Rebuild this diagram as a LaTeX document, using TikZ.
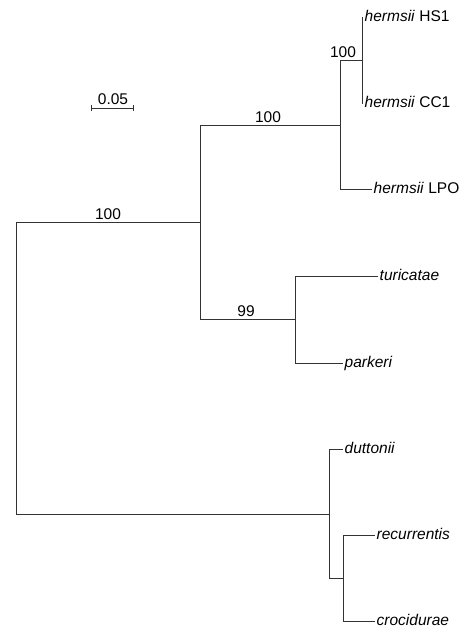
\documentclass[tikz,border=0pt]{standalone}
\usepackage{fontspec}
\setmainfont{Liberation Sans}
\begin{document}
\begin{tikzpicture}[x=1pt,y=-1pt,
  br/.style={draw=black!80,line width=1pt},
  leaf/.style={font=\fontsize{15.5}{18}\selectfont, anchor=west, inner xsep=1.5pt, inner ysep=0pt, text height=8pt, text depth=0pt},
  boot/.style={font=\fontsize{15.5}{18}\selectfont, anchor=base, inner sep=0pt}]
\useasboundingbox (0,0) rectangle (467,629);
% internal nodes
\coordinate (R) at (16,368);
\coordinate (A) at (200,222);
\coordinate (B) at (340,125);
\coordinate (C) at (362,60);
\coordinate (D) at (295,319);
\coordinate (E) at (329,514);
\coordinate (F) at (343,578);
% leaves
\node[leaf] (hs1) at (363,17) {\textit{hermsii} HS1};
\node[leaf] (cc1) at (363,103) {\textit{hermsii} CC1};
\node[leaf] (lpo) at (372,189) {\textit{hermsii} LPO};
\node[leaf] (tur) at (378,276) {\textit{turicatae}};
\node[leaf] (par) at (343,363) {\textit{parkeri}};
\node[leaf] (dut) at (343,449) {\textit{duttonii}};
\node[leaf] (rec) at (375,535) {\textit{recurrentis}};
\node[leaf] (cro) at (375,621) {\textit{crocidurae}};
% branches
\draw[br] (R) |- (A);
\draw[br] (R) |- (E);
\draw[br] (A) |- (B);
\draw[br] (A) |- (D);
\draw[br] (B) |- (C);
\draw[br] (B) |- (lpo.west);
\draw[br] (C) |- (hs1.west);
\draw[br] (C) |- (cc1.west);
\draw[br] (D) |- (tur.west);
\draw[br] (D) |- (par.west);
\draw[br] (E) |- (dut.west);
\draw[br] (E) |- (F);
\draw[br] (F) |- (rec.west);
\draw[br] (F) |- (cro.west);
% bootstrap values
\node[boot] (bs1) at (108,219) {100};
\node[boot] (bs2) at (268,122) {100};
\node[boot] (bs3) at (343,57) {100};
\node[boot] (bs4) at (246,316) {99};
% scale bar
\coordinate (s1) at (91,108);
\coordinate (s2) at (133,108);
\draw[br] (s1) -- (s2);
\draw[br] ([yshift=3pt]s1) -- ([yshift=-3pt]s1);
\draw[br] ([yshift=3pt]s2) -- ([yshift=-3pt]s2);
\node[boot] (sl) at (113,104) {0.05};
\end{tikzpicture}
\end{document}
